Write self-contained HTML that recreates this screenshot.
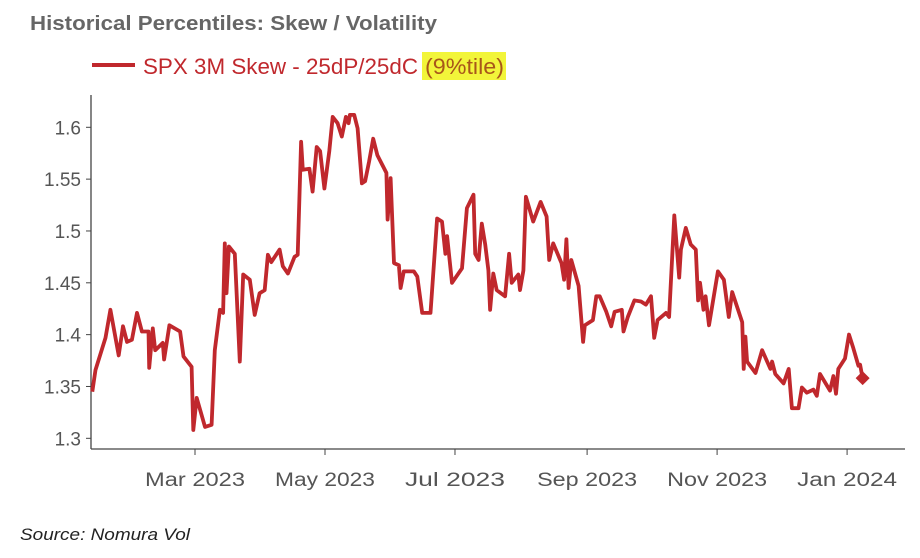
<!DOCTYPE html>
<html><head><meta charset="utf-8"><style>
body{margin:0;background:#fff;width:920px;height:558px;overflow:hidden;font-family:"Liberation Sans",sans-serif}
svg{position:absolute;left:0;top:0}
</style></head><body>
<svg width="920" height="558">
<text x="30" y="30" font-size="20" font-weight="bold" fill="#666" textLength="407" lengthAdjust="spacingAndGlyphs">Historical Percentiles: Skew / Volatility</text>
<g>
<line x1="92" y1="65" x2="135" y2="65" stroke="#c0282d" stroke-width="4"/>
<rect x="422" y="52" width="84" height="28" fill="#f2f53a"/>
<text x="143" y="74" font-size="22" fill="#c0282d" textLength="275" lengthAdjust="spacingAndGlyphs">SPX 3M Skew - 25dP/25dC</text>
<text x="425" y="74" font-size="22" fill="#a8571a" textLength="79" lengthAdjust="spacingAndGlyphs">(9%tile)</text>
</g>
<g id="plot"></g>
<text x="20" y="540" font-size="17" font-style="italic" fill="#222" textLength="170" lengthAdjust="spacingAndGlyphs">Source: Nomura Vol</text>
</svg>
<script>
const days=[10.8,12.3,17.0,19.3,23.2,25.2,27.1,29.4,31.8,34.1,37.2,37.5,39.2,40.3,43.9,44.5,47.0,52.0,53.6,57.4,58.2,59.8,63.7,66.8,68.3,70.7,72.2,73.0,73.8,74.9,77.7,80.0,81.6,84.7,87.0,89.3,91.7,93.2,94.8,98.7,100.2,102.6,105.7,107.2,108.8,109.6,112.7,114.2,116.1,117.7,119.7,122.0,123.6,125.9,127.9,129.8,131.1,131.7,133.7,135.3,137.3,138.8,140.7,142.6,144.6,148.8,149.4,150.8,152.4,154.7,155.5,157.0,161.7,163.3,165.6,169.5,172.6,174.9,176.5,177.3,179.6,184.3,186.6,189.7,190.5,192.1,193.6,195.2,196.7,197.5,199.0,200.6,204.5,206.4,207.6,210.7,211.5,213.1,214.3,217.7,221.2,224.0,225.2,227.1,231.0,232.2,233.3,234.3,235.6,239.0,241.1,241.9,245.7,247.3,248.9,252.0,254.3,255.9,259.3,260.1,262.1,265.2,268.3,270.6,273.0,274.5,276.1,280.0,281.5,283.9,286.2,287.0,289.3,291.6,294.0,295.1,296.0,297.6,298.6,300.2,304.4,307.2,309.5,311.1,315.8,316.5,317.3,318.1,322.0,325.1,329.0,329.8,331.3,335.2,337.6,339.1,342.2,343.8,346.1,349.2,350.8,352.3,357.0,358.6,359.8,360.9,364.0,365.9,367.9,370.3,371.1,372.3];
const values=[1.345,1.366,1.397,1.424,1.38,1.408,1.393,1.395,1.421,1.403,1.403,1.368,1.406,1.385,1.392,1.376,1.409,1.403,1.379,1.369,1.308,1.339,1.311,1.313,1.385,1.424,1.421,1.488,1.44,1.485,1.478,1.374,1.458,1.453,1.419,1.44,1.443,1.477,1.47,1.482,1.466,1.459,1.475,1.477,1.586,1.559,1.56,1.538,1.581,1.577,1.541,1.577,1.61,1.604,1.591,1.61,1.604,1.612,1.612,1.599,1.546,1.548,1.567,1.589,1.573,1.556,1.511,1.551,1.469,1.467,1.445,1.461,1.461,1.456,1.421,1.421,1.512,1.509,1.478,1.495,1.45,1.464,1.522,1.535,1.478,1.472,1.507,1.487,1.462,1.424,1.459,1.443,1.437,1.478,1.45,1.458,1.443,1.462,1.533,1.509,1.528,1.514,1.472,1.488,1.469,1.453,1.492,1.445,1.472,1.447,1.393,1.409,1.414,1.437,1.437,1.422,1.408,1.422,1.424,1.403,1.417,1.433,1.432,1.429,1.437,1.397,1.414,1.421,1.417,1.515,1.455,1.482,1.503,1.487,1.482,1.433,1.45,1.424,1.437,1.409,1.461,1.453,1.417,1.441,1.412,1.367,1.398,1.374,1.363,1.385,1.367,1.374,1.362,1.353,1.367,1.329,1.329,1.349,1.344,1.347,1.341,1.362,1.346,1.36,1.343,1.367,1.377,1.4,1.387,1.37,1.371,1.358];
const yTicks=[1.3,1.35,1.4,1.45,1.5,1.55,1.6];
const yTickLabels=["1.3","1.35","1.4","1.45","1.5","1.55","1.6"];
const xTicks=[59,120,181,243,304,365];
const xTickLabels=["Mar 2023","May 2023","Jul 2023","Sep 2023","Nov 2023","Jan 2024"];
const X=d=>195+(d-59)*2.131;
const Y=v=>127.3+(1.6-v)*1036.7;
const NS="http://www.w3.org/2000/svg";
const g=document.getElementById('plot');
function mk(t,a){const e=document.createElementNS(NS,t);for(const k in a)e.setAttribute(k,a[k]);g.appendChild(e);return e;}
let e=mk('line',{x1:91,y1:95,x2:91,y2:449,stroke:'#444','stroke-width':1.3});


e=mk('line',{x1:91,y1:449,x2:905,y2:449,stroke:'#444','stroke-width':1.3});


yTicks.forEach((v,i)=>{
 let t=mk('line',{x1:86,x2:91,y1:Y(v),y2:Y(v),stroke:'#444'});
 
 
 let l=mk('text',{x:81,y:Y(v)+7,'text-anchor':'end','font-size':19,fill:'#555'});
 l.textContent=yTickLabels[i];
 
 
});
xTicks.forEach((d,i)=>{
 let t=mk('line',{x1:X(d),x2:X(d),y1:449,y2:455,stroke:'#444'});
 
 
 let l=mk('text',{x:X(d),y:486,'text-anchor':'middle','font-size':19,fill:'#555',textLength:100,lengthAdjust:'spacingAndGlyphs'});
 l.textContent=xTickLabels[i];
 
 
});
const pts=days.map((d,i)=>X(d).toFixed(1)+','+Y(values[i]).toFixed(1)).join(' ');
const p=mk('polyline',{points:pts,fill:'none',stroke:'#c0282d','stroke-width':3.8,'stroke-linejoin':'round'});


const n=days.length-1,cx=X(days[n]),cy=Y(values[n]);
const m=mk('polygon',{points:`${cx},${cy-7} ${cx+7},${cy} ${cx},${cy+7} ${cx-7},${cy}`,fill:'#c0282d'});


</script>
</body></html>
